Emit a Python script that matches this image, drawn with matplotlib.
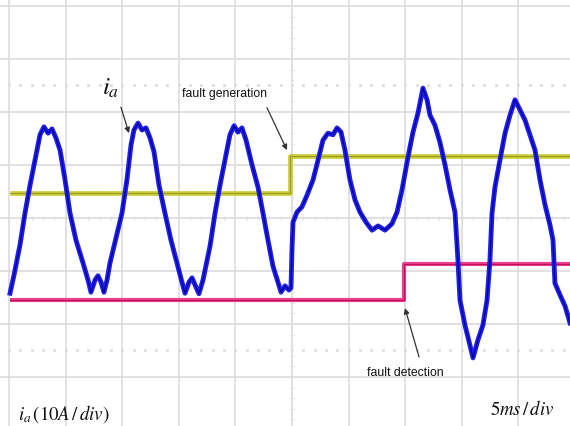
import matplotlib
matplotlib.use("Agg")
import matplotlib.pyplot as plt
import numpy as np

plt.rcParams['mathtext.fontset'] = 'stix'

# ---- data (time in ms, 5 ms/div; amplitude in A, 10 A/div) ----
blue_t = [0.09, 0.44, 0.97, 1.41, 1.86, 2.39, 2.74, 3.09, 3.45, 3.80, 4.15, 4.51, 4.95, 5.39,
          5.92, 6.54, 6.98, 7.24, 7.60, 7.86, 8.13, 8.39, 8.66, 8.92, 9.45, 9.98, 10.42, 10.78,
          11.04, 11.40, 11.75, 12.10, 12.46, 12.81, 13.25, 13.78, 14.31, 14.84, 15.28, 15.55,
          15.90, 16.17, 16.43, 16.78, 17.14, 17.76, 18.20, 18.64, 19.17, 19.52, 19.88, 20.23,
          20.58, 20.94, 21.47, 22.00, 22.44, 22.88, 23.32, 23.76, 24.03, 24.38, 24.73, 24.91,
          25.00, 25.09, 25.44, 25.88, 26.33, 26.86, 27.30, 27.74, 28.18, 28.62, 28.98, 29.33,
          29.68, 30.12, 30.57, 31.01, 31.54, 32.07, 32.60, 33.22, 33.83, 34.28, 34.72, 35.25,
          35.69, 36.13, 36.57, 36.93, 37.19, 37.63, 38.07, 38.52, 38.96, 39.40, 39.66, 39.84,
          40.28, 40.72, 40.99, 41.43, 41.87, 42.23, 42.49, 42.67, 42.93, 43.37, 43.82, 44.26,
          44.70, 45.14, 45.58, 46.02, 46.47, 46.91, 47.35, 47.79, 48.06, 48.23, 48.67, 49.12,
          49.56]
blue_a = [-14.2, -10.8, -5.1, 0.9, 6.2, 11.9, 15.7, 17.2, 16.0, 16.8, 15.1, 12.8, 7.2, 0.9,
          -4.2, -8.5, -11.7, -14.0, -11.7, -10.9, -12.1, -14.0, -11.7, -8.5, -3.8, 0.9, 7.2, 13.8,
          16.6, 17.9, 16.6, 17.0, 15.1, 12.5, 6.2, 0.9, -4.2, -8.5, -12.1, -14.2,
          -12.1, -11.3, -12.6, -14.3, -11.7, -5.3, 0.9, 6.2, 11.9, 15.7, 17.4, 16.2,
          17.0, 14.7, 10.0, 5.8, 0.9, -4.2, -9.1, -12.1, -14.0, -12.8, -13.6, -13.2,
          -6.0, -0.8, 1.1, 2.1, 4.3, 7.2, 10.9, 14.7, 16.0, 15.7, 17.0, 16.2,
          12.8, 7.2, 3.4, 1.1, -0.8, -2.3, -1.5, -2.3, -1.1, 1.1, 5.3, 11.5,
          16.2, 19.8, 24.5, 22.3, 19.4, 17.5, 14.3, 10.0, 5.3, 1.1, -7.9, -15.5,
          -20.2, -24.0, -26.4, -23.0, -20.2, -15.5, -7.9, 0.9, 5.8, 10.9, 16.0, 19.4,
          22.3, 20.4, 18.5, 15.7, 12.8, 7.2, 2.5, -1.3, -4.2, -12.3, -14.5, -16.6,
          -19.8]

yellow_t = [0.05, 24.8, 24.8, 49.6]
yellow_v = [4.7, 4.7, 11.7, 11.7]

magenta_t = [0.05, 34.9, 34.9, 49.6]
magenta_v = [-15.5, -15.5, -8.7, -8.7]

x_grid = [0, 5, 10, 15, 20, 25, 30, 35, 40, 45, 50]
y_grid = [-40, -30, -20, -10, 0, 10, 20, 30, 40]

# ---- figure ----
fig = plt.figure(figsize=(5.70, 4.26), dpi=100)
ax = fig.add_axes([0, 0, 1, 1])
ax.set_xlim(-0.795, 49.56)
ax.set_ylim(-39.25, 41.13)
ax.axis('off')

gc = '#d8d8d8'
for x in x_grid:
    ax.axvline(x, color=gc, lw=1.1, zorder=0)
for y in y_grid:
    ax.axhline(y, color=gc, lw=1.1, zorder=0)

# minor ticks on centre lines and dotted rows
minor_x = np.arange(0, 50.01, 1.0)
minor_y = np.arange(-40, 40.01, 2.0)
tc = '#e0e0e0'
ax.plot(minor_x, np.zeros_like(minor_x), ls='none', marker='|', ms=3, color=tc, mew=0.8, zorder=0)
ax.plot(np.full_like(minor_y, 25.0), minor_y, ls='none', marker='_', ms=3, color=tc, mew=0.8, zorder=0)
for yd in (25, -25):
    ax.plot(minor_x, np.full_like(minor_x, yd), ls='none', marker='s', ms=1.0, color='#dcdcdc', zorder=0)

# traces
ax.plot(yellow_t, yellow_v, color='#cccc3a', lw=3.4, zorder=2, solid_capstyle='butt')
ax.plot(yellow_t, yellow_v, color='#9c9c22', lw=0.8, zorder=2)
ax.plot(magenta_t, magenta_v, color='#e8408f', lw=3.0, zorder=2, solid_capstyle='butt')
ax.plot(magenta_t, magenta_v, color='#c0105a', lw=0.8, zorder=2)
ax.plot(blue_t, blue_a, color='#2020e6', lw=3.5, zorder=3, solid_joinstyle='round')
ax.plot(blue_t, blue_a, color='#0000a8', lw=0.9, zorder=3)

# annotations
arrow = dict(arrowstyle='-|>', color='#333333', lw=0.9, mutation_scale=8, shrinkA=0, shrinkB=0)
ax.text(8.2, 24.5, r'$i_a$', fontsize=18, ha='left', va='center', color='#111111')
ax.annotate('', xy=(10.60, 16.0), xytext=(9.89, 20.9), arrowprops=arrow)

ax.text(19.08, 23.4, 'fault generation', fontsize=8.8, family='Liberation Sans',
        ha='center', va='center', color='#111111')
ax.annotate('', xy=(24.56, 12.8), xytext=(22.79, 20.8), arrowprops=arrow)

ax.text(34.98, -29.2, 'fault detection', fontsize=8.8, family='Liberation Sans',
        ha='center', va='center', color='#111111')
ax.annotate('', xy=(34.98, -17.0), xytext=(36.22, -26.2), arrowprops=arrow)

ax.text(0.80, -37.0, r'$i_a\,(10A\,/\,div)$', fontsize=13.5, ha='left', va='center', color='#111111')
ax.text(42.49, -36.2, r'$5ms\,/\,div$', fontsize=13.5, ha='left', va='center', color='#111111')

fig.savefig('out.png', dpi=100, facecolor='white')
